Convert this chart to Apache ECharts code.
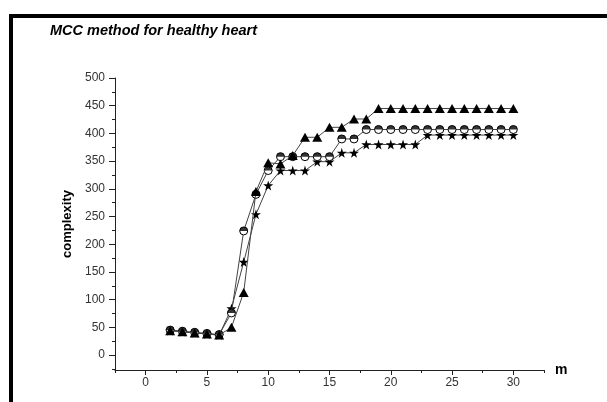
<!DOCTYPE html>
<html>
<head>
<meta charset="utf-8">
<script src="https://cdn.jsdelivr.net/npm/echarts@6/dist/echarts.min.js"></script>
<style>html,body{margin:0;padding:0;background:#fff;}#c{width:607px;height:402px;}</style>
</head>
<body>
<div id="c"></div>
<script>
// ---- data ----
const mValues = [2,3,4,5,6,7,8,9,10,11,12,13,14,15,16,17,18,19,20,21,22,23,24,25,26,27,28,29,30];
const triangleValues = [44,42,40,38,36,50,113,295,347,345,360,393,393,411,411,426,426,445,445,445,445,445,445,445,445,445,445,445,445];
const halfCircleValues = [45,43,41,39,37,76,224,290,333,358,358,358,358,358,390,390,407,407,407,407,407,407,407,407,407,407,407,407,407];
const starValues = [44,42,40,38,36,84,168,254,306,333,333,333,349,349,365,365,380,380,380,380,380,397,397,397,397,397,397,397,397];
const yMajorTicks = [0,50,100,150,200,250,300,350,400,450,500];
const yMinorTicks = [-25,25,75,125,175,225,275,325,375,425,475];
const xMajorTicks = [0,5,10,15,20,25,30];
const xMinorTicks = [-2.5,2.5,7.5,12.5,17.5,22.5,27.5,32.5];
const titleText = 'MCC method for healthy heart';
const xName = 'm';
const yName = 'complexity';

const pair = (vals) => mValues.map((m, i) => [m, vals[i]]);
const FONT = '"Liberation Sans", Arial, sans-serif';
const AX = '#222';
const starPath = 'path://M50,0 L61,35 L98,35 L68,57 L79,91 L50,70 L21,91 L32,57 L2,35 L39,35 Z';
const halfDisk = 'path://M0,10 A10,10 0 0 1 20,10 Z';

const chart = echarts.init(document.getElementById('c'), null, {renderer: 'canvas'});
const lineStyle = {color: '#444', width: 1};
chart.setOption({
  animation: false,
  backgroundColor: '#fff',
  title: {
    text: titleText, left: 50, top: 23, padding: 0,
    textStyle: {fontFamily: FONT, fontSize: 14.5, fontWeight: 'bold', fontStyle: 'italic', color: '#000'}
  },
  graphic: [
    {type: 'rect', shape: {x: 9, y: 14, width: 4, height: 388}, style: {fill: '#000'}},
    {type: 'rect', shape: {x: 9, y: 14, width: 598, height: 4}, style: {fill: '#000'}}
  ],
  grid: {left: 115, right: 63, top: 78, bottom: 32, containLabel: false},
  xAxis: [
    {
      type: 'value', min: -2.5, max: 32.5, name: xName, nameLocation: 'end', nameGap: 11,
      nameTextStyle: {fontFamily: FONT, fontSize: 14, fontWeight: 'bold', color: '#000'},
      axisLine: {show: true, onZero: false, lineStyle: {color: AX, width: 1}},
      axisTick: {show: true, length: 5, customValues: xMajorTicks, lineStyle: {color: AX}},
      axisLabel: {customValues: xMajorTicks, fontFamily: FONT, fontSize: 12, color: '#333', margin: 7},
      splitLine: {show: false}
    },
    {
      type: 'value', min: -2.5, max: 32.5, position: 'bottom', gridIndex: 0,
      axisLine: {show: false, onZero: false},
      axisTick: {show: true, length: 3, customValues: xMinorTicks, lineStyle: {color: AX}},
      axisLabel: {show: false},
      splitLine: {show: false}
    }
  ],
  yAxis: [
    {
      type: 'value', min: -27, max: 500, name: yName, nameLocation: 'middle', nameGap: 40,
      nameTextStyle: {fontFamily: FONT, fontSize: 13, fontWeight: 'bold', color: '#000'},
      axisLine: {show: true, onZero: false, lineStyle: {color: AX, width: 1}},
      axisTick: {show: true, length: 6, customValues: yMajorTicks, lineStyle: {color: AX}},
      axisLabel: {customValues: yMajorTicks, fontFamily: FONT, fontSize: 12, color: '#333', margin: 10},
      splitLine: {show: false}
    },
    {
      type: 'value', min: -27, max: 500, position: 'left', gridIndex: 0,
      axisLine: {show: false, onZero: false},
      axisTick: {show: true, length: 3, customValues: yMinorTicks, lineStyle: {color: AX}},
      axisLabel: {show: false},
      splitLine: {show: false}
    }
  ],
  series: [
    {
      type: 'line', data: pair(starValues), symbol: starPath, symbolSize: 10,
      itemStyle: {color: '#000'}, lineStyle: lineStyle, z: 2
    },
    {
      type: 'line', data: pair(halfCircleValues), symbol: 'circle', symbolSize: 8,
      itemStyle: {color: '#fff', borderColor: '#000', borderWidth: 1}, lineStyle: lineStyle, z: 3
    },
    {
      type: 'scatter', data: pair(halfCircleValues), symbol: halfDisk, symbolSize: [8, 4],
      symbolOffset: [0, -2], itemStyle: {color: '#000'}, z: 4
    },
    {
      type: 'line', data: pair(triangleValues), symbol: 'triangle', symbolSize: [10, 9],
      itemStyle: {color: '#000'}, lineStyle: lineStyle, z: 5
    }
  ]
});
</script>
</body>
</html>
